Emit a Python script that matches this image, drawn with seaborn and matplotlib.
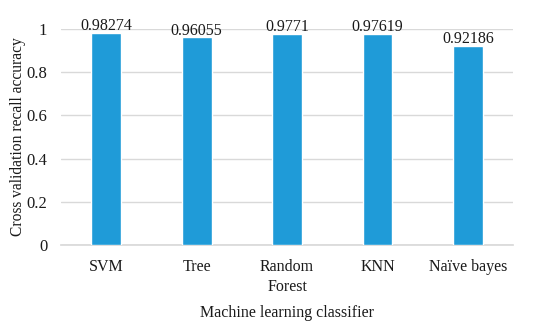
import matplotlib
matplotlib.use("Agg")
import matplotlib.pyplot as plt
import seaborn as sns
import pandas as pd

categories = ["SVM", "Tree", "Random\nForest", "KNN", "Naïve bayes"]
values = [0.98274, 0.96055, 0.9771, 0.97619, 0.92186]
labels = ["0.98274", "0.96055", "0.9771", "0.97619", "0.92186"]
yticks = [0, 0.2, 0.4, 0.6, 0.8, 1]
ytick_labels = ["0", "0.2", "0.4", "0.6", "0.8", "1"]

sns.set_theme(style="white")
plt.rcParams['font.family'] = ['Liberation Serif', 'DejaVu Serif']

df = pd.DataFrame({"classifier": categories, "value": values})

fig = plt.figure(figsize=(5.5, 3.29), dpi=100)
ax = fig.add_axes([0.111, 0.2553, 0.822, 0.657])
sns.barplot(data=df, x="classifier", y="value", color="#1F9BD8", width=0.33,
            saturation=1, ax=ax, zorder=3)
ax.set_ylim(0, 1)
ax.set_xlim(-0.5, 4.5)
ax.set_yticks(yticks)
ax.set_yticklabels(ytick_labels)
ax.yaxis.grid(True, color="#d9d9d9", linewidth=1, zorder=0)
ax.set_axisbelow(True)
for s in ["top", "right", "left"]:
    ax.spines[s].set_visible(False)
ax.spines["bottom"].set_color("#d9d9d9")
ax.tick_params(axis="x", length=0, labelsize=11.5, colors="#1a1a1a", pad=10)
ax.tick_params(axis="y", length=0, labelsize=12, colors="#1a1a1a", pad=10)
for lbl in ax.get_xticklabels():
    lbl.set_linespacing(1.35)
for i, (v, t) in enumerate(zip(values, labels)):
    ax.text(i, v + 0.013, t, ha="center", va="baseline", fontsize=11.5, color="#1a1a1a", clip_on=False)
ax.set_xlabel("Machine learning classifier", fontsize=11.5, color="#1a1a1a", labelpad=7)
ax.set_ylabel("Cross validation recall accuracy", fontsize=11.2, color="#1a1a1a")
ax.yaxis.set_label_coords(-0.078, 0.5)
fig.savefig("out.png", dpi=100)
